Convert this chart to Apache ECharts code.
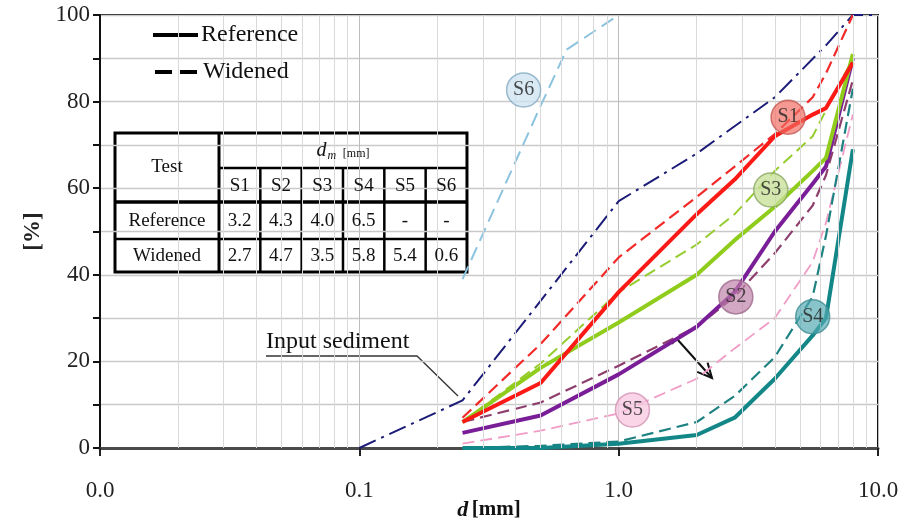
<!DOCTYPE html>
<html>
<head>
<meta charset="utf-8">
<script src="https://cdn.jsdelivr.net/npm/echarts@6.0.0/dist/echarts.min.js"></script>
<style>
  html, body { margin: 0; background: #fff; }
  #chart { width: 906px; height: 524px; }
</style>
</head>
<body>
<div id="chart"></div>
<script>
// sieve sizes [mm] and passing percentages
var sieveSizes = [0.25, 0.5, 1, 2, 2.8, 4, 5.6, 6.3, 8];
var s1Ref = [6, 15, 36, 54, 62, 72, 77, 78.5, 89];
var s1Wid = [7, 24, 44, 58, 65, 72.5, 81, 86.5, 100];
var s2Ref = [3.5, 7.5, 17, 28, 36, 50, 61, 65, 90];
var s2Wid = [6, 10.5, 19, 28, 35, 45, 56, 63, 85];
var s3Ref = [6, 18.5, 29, 40, 48, 55.7, 64, 67, 91];
var s3Wid = [6, 19.5, 36, 47, 54, 64, 72, 78, 90];
var s4Ref = [0, 0, 1, 3, 7, 16, 26, 30, 69];
var s4Wid = [0, 0.5, 1.5, 6, 12, 21, 35, 49, 83];
var s5Wid = [1, 4, 8, 16, 23, 30, 43, 52, 77];
var s6Sizes = [0.25, 0.5, 0.63, 1];
var s6Wid = [39, 79, 92, 100];
var inputSizes = [0.1, 0.25, 0.5, 1, 2, 4, 6.3, 8, 10];
var inputSediment = [0, 11, 34, 57, 68, 81, 93, 100, 100];

// circle tags
var tagNames = ['S1', 'S2', 'S3', 'S4', 'S5', 'S6'];
var tagD = [4.5, 2.83, 3.86, 5.6, 1.13, 0.43];
var tagPct = [76.4, 34.9, 59.6, 30.3, 8.8, 82.7];

// axis stuff
var xTickLabels = {0.01: '0.0', 0.1: '0.1', 1: '1.0', 10: '10.0'};
var minorGrid = [0.02, 0.03, 0.04, 0.05, 0.06, 0.07, 0.08, 0.09,
                 0.2, 0.3, 0.4, 0.5, 0.6, 0.7, 0.8, 0.9,
                 2, 3, 4, 5, 6, 7, 8, 9];

// table contents
var tableTests = ['S1', 'S2', 'S3', 'S4', 'S5', 'S6'];
var dmReference = ['3.2', '4.3', '4.0', '6.5', '-', '-'];
var dmWidened = ['2.7', '4.7', '3.5', '5.8', '5.4', '0.6'];

var SERIF = '"Liberation Serif", "Times New Roman", serif';

function pairs(xs, ys) {
  return xs.map(function (x, i) { return [x, ys[i]]; });
}

function line(name, xs, ys, color, width, dash) {
  return {
    name: name,
    type: 'line',
    data: pairs(xs, ys),
    showSymbol: false,
    symbol: 'none',
    silent: true,
    lineStyle: { color: color, width: width, type: dash || 'solid', cap: 'butt', join: 'round' },
    z: 3
  };
}

var DASH = [12, 6];

var tagStyles = [
  { fill: 'rgba(240,105,95,0.85)', stroke: '#c25a55' },
  { fill: 'rgba(190,128,168,0.85)', stroke: '#9d6a8c' },
  { fill: 'rgba(198,224,150,0.95)', stroke: '#8aa860' },
  { fill: 'rgba(80,168,178,0.85)', stroke: '#3f8d94' },
  { fill: 'rgba(248,198,224,0.95)', stroke: '#d392b4' },
  { fill: 'rgba(206,228,240,0.95)', stroke: '#86aac2' }
];

var series = [
  {
    type: 'line', data: [[0.01, 0]], showSymbol: false, silent: true,
    lineStyle: { opacity: 0 },
    markLine: {
      silent: true, symbol: 'none', label: { show: false },
      lineStyle: { color: '#d9d9d9', width: 1, type: 'solid' },
      data: minorGrid.map(function (v) { return { xAxis: v }; })
    },
    z: 1
  },
  line('Input sediment', inputSizes, inputSediment, '#1b1b78', 2, [18, 6, 3, 6]),
  line('S6 widened', s6Sizes, s6Wid, '#8cc3df', 2, [14, 7]),
  line('S5 widened', sieveSizes, s5Wid, '#f09cc6', 1.8, DASH),
  line('S4 widened', sieveSizes, s4Wid, '#1e8282', 2.2, DASH),
  line('S2 widened', sieveSizes, s2Wid, '#8e3f6e', 2.2, DASH),
  line('S3 widened', sieveSizes, s3Wid, '#96cc2e', 2, DASH),
  line('S1 widened', sieveSizes, s1Wid, '#f22a2a', 2.2, DASH),
  line('S4 reference', sieveSizes, s4Ref, '#138787', 4),
  line('S2 reference', sieveSizes, s2Ref, '#7a1e98', 4),
  line('S3 reference', sieveSizes, s3Ref, '#8fcc1c', 4),
  line('S1 reference', sieveSizes, s1Ref, '#fb1a16', 4),
  {
    type: 'scatter',
    silent: true,
    z: 5,
    symbolSize: 34,
    data: tagNames.map(function (n, i) {
      return {
        value: [tagD[i], tagPct[i]],
        name: n,
        itemStyle: { color: tagStyles[i].fill, borderColor: tagStyles[i].stroke, borderWidth: 1.5 }
      };
    }),
    label: {
      show: true, position: 'inside', formatter: '{b}',
      fontFamily: SERIF, fontSize: 20, color: '#222'
    }
  }
];

// table drawn as graphic
var T = { left: 115, top: 133, firstW: 104, colW: 41.33, rows: [133, 168, 202, 239, 272] };
var tRight = T.left + T.firstW + 6 * T.colW;
var tbl = [];
tbl.push({ type: 'rect', shape: { x: T.left, y: T.top, width: tRight - T.left, height: T.rows[4] - T.top },
  style: { fill: '#fff', stroke: '#000', lineWidth: 3 } });
tbl.push({ type: 'line', shape: { x1: T.left + T.firstW, y1: T.top, x2: T.left + T.firstW, y2: T.rows[4] },
  style: { stroke: '#000', lineWidth: 3 } });
for (var c = 1; c < 6; c++) {
  var cx = T.left + T.firstW + c * T.colW;
  tbl.push({ type: 'line', shape: { x1: cx, y1: T.rows[1], x2: cx, y2: T.rows[4] }, style: { stroke: '#000', lineWidth: 2.5 } });
}
tbl.push({ type: 'line', shape: { x1: T.left + T.firstW, y1: T.rows[1], x2: tRight, y2: T.rows[1] }, style: { stroke: '#000', lineWidth: 2.5 } });
tbl.push({ type: 'line', shape: { x1: T.left, y1: T.rows[2], x2: tRight, y2: T.rows[2] }, style: { stroke: '#000', lineWidth: 3.5 } });
tbl.push({ type: 'line', shape: { x1: T.left, y1: T.rows[3], x2: tRight, y2: T.rows[3] }, style: { stroke: '#000', lineWidth: 2.5 } });

function txt(s, x, y, size, align, extra) {
  var st = { text: s, x: x, y: y, fill: '#111', font: (extra || '') + size + 'px ' + SERIF,
    align: align || 'center', verticalAlign: 'middle' };
  return { type: 'text', style: st, z: 20 };
}
var firstCx = T.left + T.firstW / 2;
tbl.push(txt('Test', firstCx, (T.rows[0] + T.rows[2]) / 2, 19));
tbl.push(txt('Reference', firstCx, (T.rows[2] + T.rows[3]) / 2 + 1, 19));
tbl.push(txt('Widened', firstCx, (T.rows[3] + T.rows[4]) / 2 + 1, 19));
tbl.push({
  type: 'text', z: 20,
  style: {
    text: '{d|d}{m|m}  {u|[mm]}',
    x: T.left + T.firstW + 3 * T.colW, y: (T.rows[0] + T.rows[1]) / 2,
    align: 'center', verticalAlign: 'middle', fill: '#111',
    rich: {
      d: { fontFamily: SERIF, fontStyle: 'italic', fontSize: 20, fill: '#111' },
      m: { fontFamily: SERIF, fontStyle: 'italic', fontSize: 12, fill: '#111', padding: [10, 0, 0, 1] },
      u: { fontFamily: SERIF, fontSize: 12, fill: '#111', padding: [6, 0, 0, 0] }
    }
  }
});
tableTests.forEach(function (s, i) {
  var cx = T.left + T.firstW + (i + 0.5) * T.colW;
  tbl.push(txt(s, cx, (T.rows[1] + T.rows[2]) / 2 + 1, 19));
  tbl.push(txt(dmReference[i], cx, (T.rows[2] + T.rows[3]) / 2 + 1, 19));
  tbl.push(txt(dmWidened[i], cx, (T.rows[3] + T.rows[4]) / 2 + 1, 19));
});

// legend, annotation, arrow
var deco = [
  { type: 'line', shape: { x1: 153, y1: 35, x2: 198, y2: 35 }, style: { stroke: '#000', lineWidth: 4 } },
  txt('Reference', 201, 35, 24, 'left'),
  { type: 'line', shape: { x1: 155, y1: 72, x2: 198, y2: 72 }, style: { stroke: '#000', lineWidth: 4, lineDash: [17, 8] } },
  txt('Widened', 203, 72, 24, 'left'),
  txt('Input sediment', 266, 342, 24, 'left'),
  { type: 'polyline', shape: { points: [[266, 356], [417, 356], [458, 396]] }, style: { stroke: '#333', lineWidth: 1.3, fill: null } }
];
var a0 = [677, 339], a1 = [712, 378];
var ang = Math.atan2(a1[1] - a0[1], a1[0] - a0[0]);
var hl = 16, ha = 0.45;
deco.push({ type: 'line', shape: { x1: a0[0], y1: a0[1], x2: a1[0], y2: a1[1] }, style: { stroke: '#111', lineWidth: 2 } });
deco.push({ type: 'polyline', shape: { points: [
  [a1[0] - hl * Math.cos(ang - ha), a1[1] - hl * Math.sin(ang - ha)],
  a1,
  [a1[0] - hl * Math.cos(ang + ha), a1[1] - hl * Math.sin(ang + ha)]
] }, style: { stroke: '#111', lineWidth: 2, fill: null } });
deco.push({ type: 'line', shape: { x1: a0[0] - 5, y1: a0[1] + 5, x2: a0[0] + 5, y2: a0[1] - 5 }, style: { stroke: '#111', lineWidth: 1.5 } });

var chart = echarts.init(document.getElementById('chart'), null, { renderer: 'canvas' });

var option = {
  backgroundColor: '#fff',
  animation: false,
  grid: {
    left: 100, right: 28, top: 15, bottom: 76,
    outerBoundsMode: 'none', containLabel: false,
    show: true, borderColor: '#111', borderWidth: 2, backgroundColor: 'transparent'
  },
  xAxis: {
    type: 'log',
    logBase: 10,
    min: 0.01,
    max: 10,
    name: '{i|d} {b|[mm]}',
    nameLocation: 'middle',
    nameGap: 51,
    nameMoveOverlap: false,
    nameTextStyle: {
      rich: {
        i: { fontFamily: SERIF, fontStyle: 'italic', fontWeight: 'bold', fontSize: 22, color: '#111' },
        b: { fontFamily: SERIF, fontWeight: 'bold', fontSize: 21, color: '#111' }
      }
    },
    axisLine: { show: true, onZero: false, lineStyle: { color: '#4a4a4a', width: 3 } },
    axisTick: { show: true, inside: false, length: 8, lineStyle: { color: '#222', width: 2 } },
    axisLabel: {
      margin: 31,
      fontFamily: SERIF, fontSize: 23, color: '#222',
      formatter: function (v) {
        var k = Object.keys(xTickLabels).find(function (t) { return Math.abs(+t - v) < v * 1e-6; });
        return k !== undefined ? xTickLabels[k] : '';
      }
    },
    splitLine: { show: true, lineStyle: { color: '#bdbdbd', width: 1 } },
    minorTick: { show: false },
    minorSplitLine: { show: false }
  },
  yAxis: {
    type: 'value',
    min: 0,
    max: 100,
    interval: 10,
    name: '[%]',
    nameLocation: 'middle',
    nameGap: 53,
    nameRotate: 90,
    nameTextStyle: { fontFamily: SERIF, fontWeight: 'bold', fontSize: 23, color: '#222' },
    axisLine: { show: true, lineStyle: { color: '#111', width: 2 } },
    axisTick: { show: true, inside: false, length: 7, lineStyle: { color: '#111', width: 2 } },
    axisLabel: {
      margin: 10,
      fontFamily: SERIF, fontSize: 23, color: '#222',
      formatter: function (v) { return v % 20 === 0 ? String(v) : ''; }
    },
    splitLine: { show: true, lineStyle: { color: '#c9c9c9', width: 1.3 } }
  },
  series: series,
  graphic: { elements: tbl.concat(deco) }
};

chart.setOption(option);
</script>
</body>
</html>
